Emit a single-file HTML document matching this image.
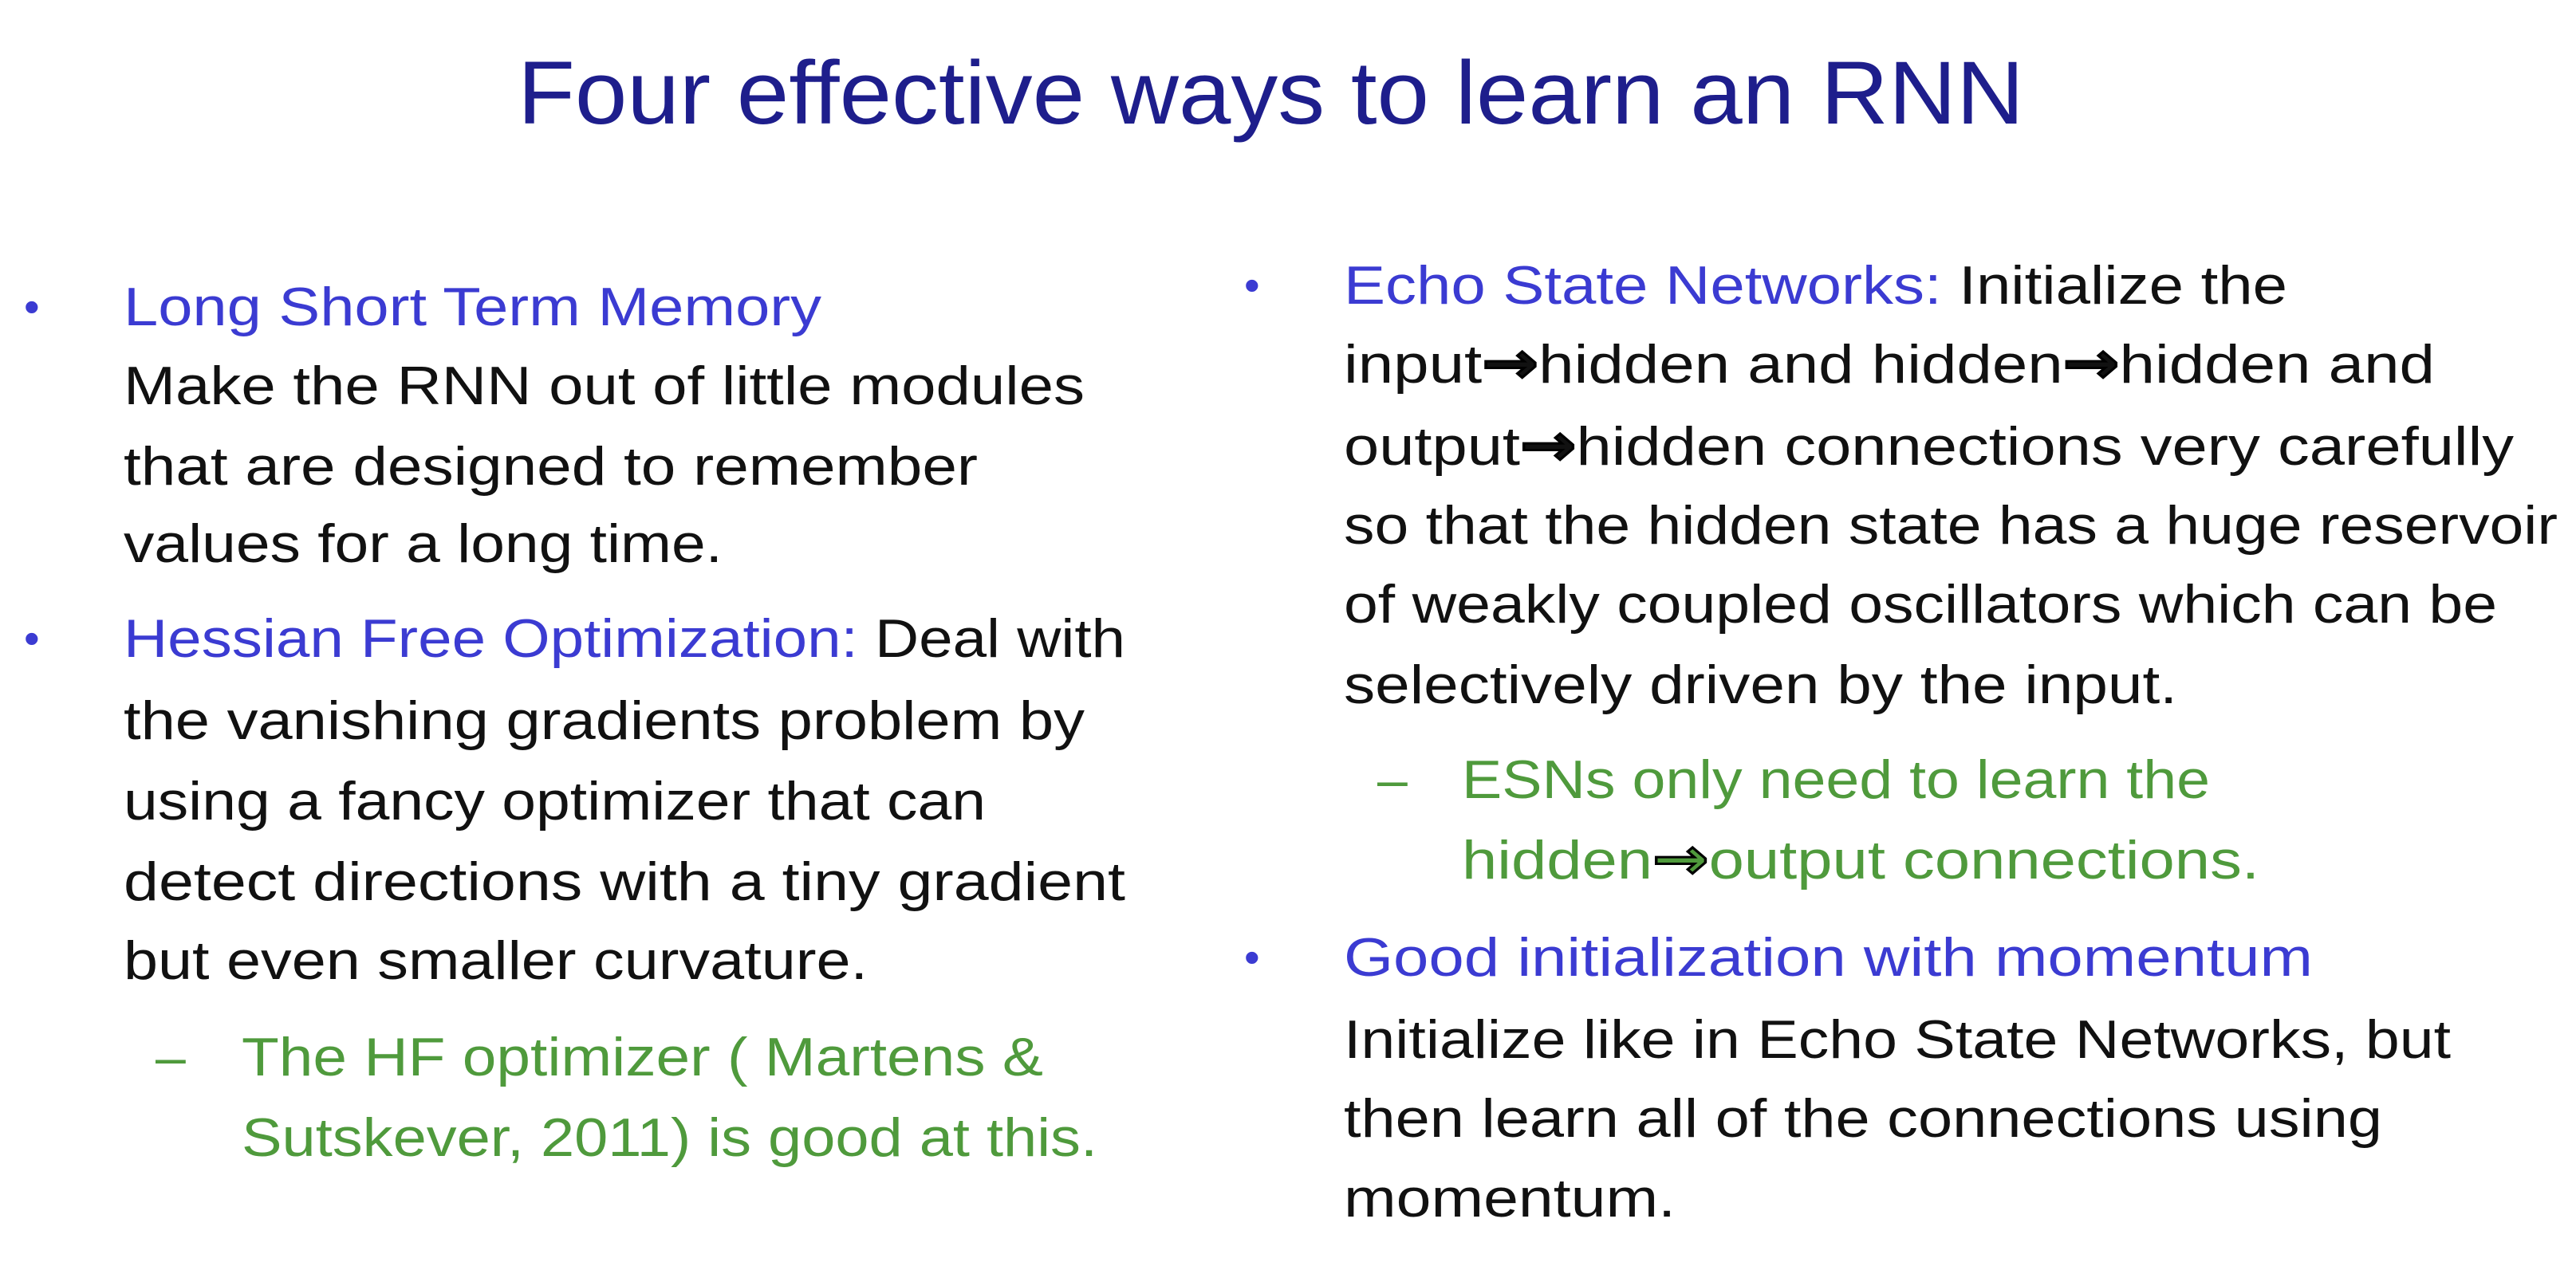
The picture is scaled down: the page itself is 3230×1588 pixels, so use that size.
<!DOCTYPE html>
<html><head><meta charset="utf-8"><style>
html,body{margin:0;padding:0;background:#fff;}
svg{display:block;}
text{font-family:"Liberation Sans",sans-serif;}
.t{fill:#1e1e8c;font-size:112px;}
.b{font-size:68px;fill:#111;}
.bl{fill:#3b3bd2;}
.g{fill:#4f9a3c;}
.dot{font-size:56px;fill:#3b3bd2;}
.ar{font-weight:bold;font-family:"DejaVu Sans",sans-serif;font-size:72px;stroke:currentColor;stroke-width:3px;}
</style></head><body>
<svg width="3230" height="1588" viewBox="0 0 3230 1588" xmlns="http://www.w3.org/2000/svg">
<rect width="3230" height="1588" fill="#fff"/>
<text class="t" x="649" y="155" textLength="1889" lengthAdjust="spacingAndGlyphs">Four effective ways to learn an RNN</text>

<text class="dot" x="30" y="404">•</text>
<text class="b bl" x="155" y="408" textLength="875" lengthAdjust="spacingAndGlyphs">Long Short Term Memory</text>
<text class="b" x="155" y="507" textLength="1205" lengthAdjust="spacingAndGlyphs">Make the RNN out of little modules</text>
<text class="b" x="155" y="608" textLength="1071" lengthAdjust="spacingAndGlyphs">that are designed to remember</text>
<text class="b" x="155" y="705" textLength="751" lengthAdjust="spacingAndGlyphs">values for a long time.</text>
<text class="dot" x="30" y="820">•</text>
<text class="b" x="155" y="824" textLength="1256" lengthAdjust="spacingAndGlyphs"><tspan class="bl">Hessian Free Optimization:</tspan> Deal with</text>
<text class="b" x="155" y="927" textLength="1205" lengthAdjust="spacingAndGlyphs">the vanishing gradients problem by</text>
<text class="b" x="155" y="1028" textLength="1081" lengthAdjust="spacingAndGlyphs">using a fancy optimizer that can</text>
<text class="b" x="155" y="1129" textLength="1256" lengthAdjust="spacingAndGlyphs">detect directions with a tiny gradient</text>
<text class="b" x="155" y="1228" textLength="933" lengthAdjust="spacingAndGlyphs">but even smaller curvature.</text>
<text class="b g" x="195" y="1349">–</text>
<text class="b g" x="303" y="1349" textLength="1005" lengthAdjust="spacingAndGlyphs">The HF optimizer ( Martens &amp;</text>
<text class="b g" x="303" y="1450" textLength="1073" lengthAdjust="spacingAndGlyphs">Sutskever, 2011) is good at this.</text>

<text class="dot" x="1560" y="377">•</text>
<text class="b" x="1685" y="381" textLength="1183" lengthAdjust="spacingAndGlyphs"><tspan class="bl">Echo State Networks:</tspan>  Initialize the</text>
<text class="b" x="1685" y="480" textLength="1368" lengthAdjust="spacingAndGlyphs">input<tspan class="ar">→</tspan>hidden and hidden<tspan class="ar">→</tspan>hidden and</text>
<text class="b" x="1685" y="583" textLength="1467" lengthAdjust="spacingAndGlyphs">output<tspan class="ar">→</tspan>hidden connections very carefully</text>
<text class="b" x="1685" y="682" textLength="1522" lengthAdjust="spacingAndGlyphs">so that the hidden state has a huge reservoir</text>
<text class="b" x="1685" y="781" textLength="1446" lengthAdjust="spacingAndGlyphs">of weakly coupled oscillators which can be</text>
<text class="b" x="1685" y="882" textLength="1045" lengthAdjust="spacingAndGlyphs">selectively driven by the input.</text>
<text class="b g" x="1727" y="1001">–</text>
<text class="b g" x="1833" y="1001" textLength="938" lengthAdjust="spacingAndGlyphs">ESNs only need to learn the</text>
<text class="b g" x="1833" y="1102" textLength="1000" lengthAdjust="spacingAndGlyphs">hidden<tspan class="ar">→</tspan>output connections.</text>
<text class="dot" x="1560" y="1220">•</text>
<text class="b bl" x="1685" y="1224" textLength="1215" lengthAdjust="spacingAndGlyphs">Good initialization with momentum</text>
<text class="b" x="1685" y="1327" textLength="1388" lengthAdjust="spacingAndGlyphs">Initialize like in Echo State Networks, but</text>
<text class="b" x="1685" y="1426" textLength="1302" lengthAdjust="spacingAndGlyphs">then learn all of the connections using</text>
<text class="b" x="1685" y="1526" textLength="416" lengthAdjust="spacingAndGlyphs">momentum.</text>
</svg>
</body></html>
